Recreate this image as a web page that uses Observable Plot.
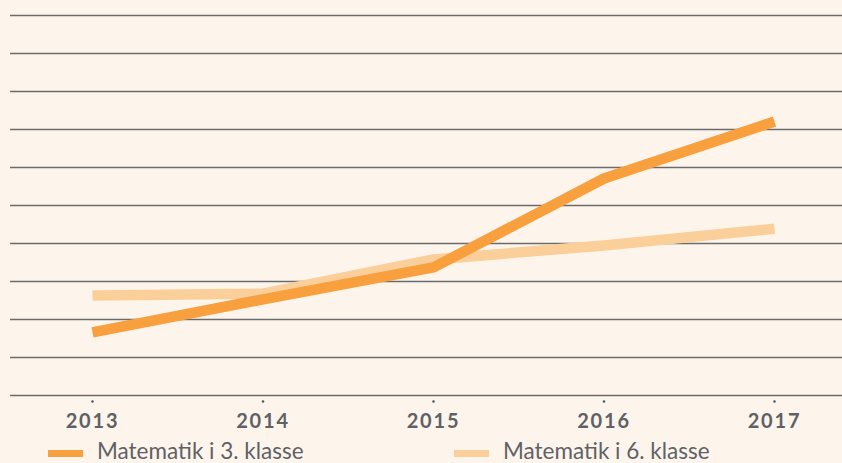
<!DOCTYPE html>
<html>
<head>
<meta charset="utf-8">
<script src="https://cdn.jsdelivr.net/npm/d3@7"></script>
<script src="https://cdn.jsdelivr.net/npm/@observablehq/plot@0.6"></script>
<style>
  html, body { margin: 0; padding: 0; background: #fdf5ec; }
  #chart svg { display: block; background: #fdf5ec; }
  #chart svg text { letter-spacing: 1.8px; }
  #legend { position: relative; width: 842px; height: 25px; font-family: Lato, "Open Sans", sans-serif; color: #5f6166; }
  #legend .sw { position: absolute; top: 12px; width: 35px; height: 6.5px; }
  #legend .lb { position: absolute; top: 3px; font-size: 22.5px; line-height: 20px; white-space: nowrap; }
</style>
</head>
<body>
<div id="chart"></div>
<div id="legend"></div>
<script>
const years = [2013, 2014, 2015, 2016, 2017];
const grade3 = [1.66, 2.53, 3.37, 5.71, 7.21];
const grade6 = [2.63, 2.68, 3.58, 3.95, 4.39];
const gridValues = [0, 1, 2, 3, 4, 5, 6, 7, 8, 9, 10];
const seriesNames = ["Matematik i 3. klasse", "Matematik i 6. klasse"];
const seriesColors = ["#f89f3e", "#fbcf99"];

const data3 = years.map((y, i) => ({year: y, value: grade3[i]}));
const data6 = years.map((y, i) => ({year: y, value: grade6[i]}));

const plot = Plot.plot({
  width: 842,
  height: 438,
  marginLeft: 92,
  marginRight: 68,
  marginTop: 15,
  marginBottom: 43,
  style: {background: "#fdf5ec", fontFamily: "Lato, 'Open Sans', sans-serif"},
  x: {type: "linear", domain: [2013, 2017], axis: null},
  y: {domain: [0, 10], axis: null},
  marks: [
    Plot.ruleY(gridValues, {y: d => d, stroke: "#6b6b6b", strokeWidth: 1.7, insetLeft: -82, insetRight: -68}),
    Plot.dot(years, {x: d => d, y: 0, dy: 6, r: 1.3, fill: "#555a60", stroke: null}),
    Plot.text(years, {x: d => d, y: 0, dy: 26, text: d => String(d), fontSize: 20, fontWeight: "bold", fill: "#5f6166", lineAnchor: "middle"}),
    Plot.line(data6, {x: "year", y: "value", stroke: seriesColors[1], strokeWidth: 10.5, strokeLinecap: "butt", strokeLinejoin: "round"}),
    Plot.line(data3, {x: "year", y: "value", stroke: seriesColors[0], strokeWidth: 10.5, strokeLinecap: "butt", strokeLinejoin: "round"})
  ]
});
document.getElementById("chart").appendChild(plot);

const legend = document.getElementById("legend");
const swX = [48, 454];
const lbX = [97, 503];
seriesNames.forEach((name, i) => {
  const sw = document.createElement("div");
  sw.className = "sw";
  sw.style.left = swX[i] + "px";
  sw.style.background = seriesColors[i];
  legend.appendChild(sw);
  const lb = document.createElement("div");
  lb.className = "lb";
  lb.style.left = lbX[i] + "px";
  lb.textContent = name;
  legend.appendChild(lb);
});
</script>
</body>
</html>
